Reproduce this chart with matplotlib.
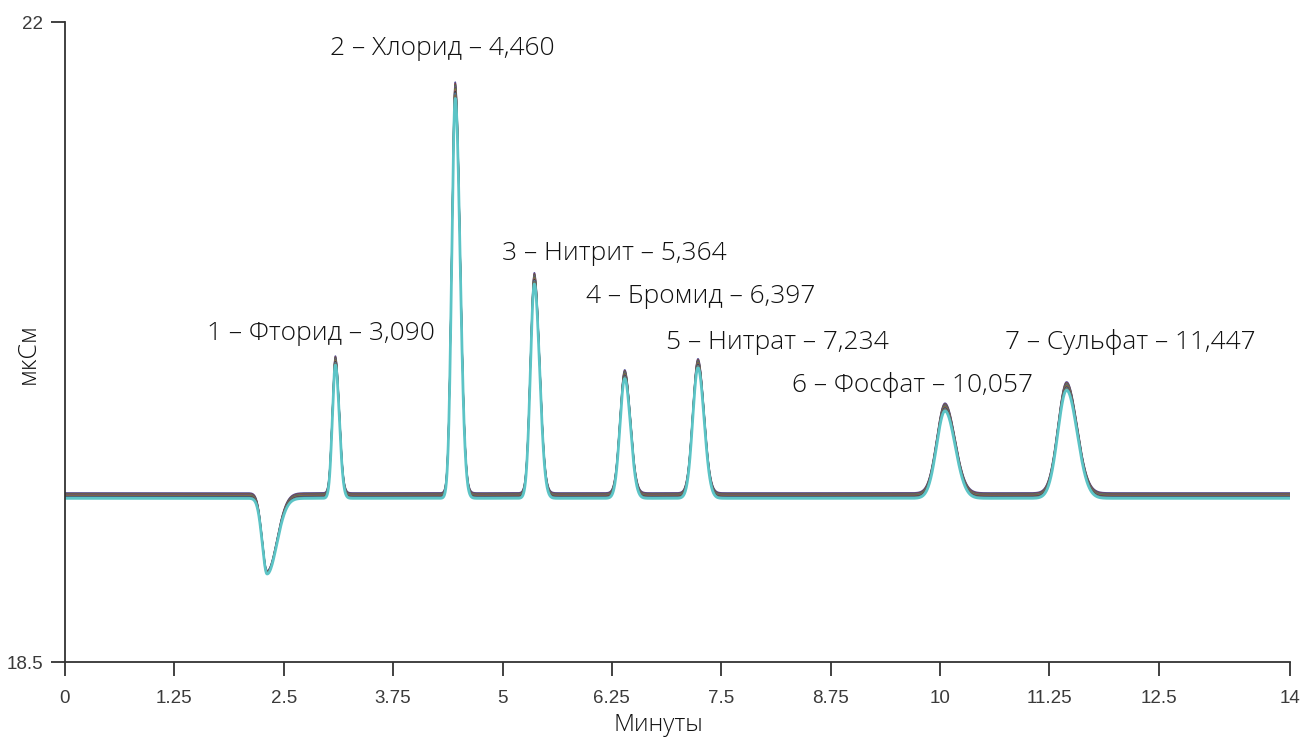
import numpy as np
import matplotlib.pyplot as plt

# peak table (minutes, µS above baseline)
peak_labels = ["1 – Фторид – 3,090", "2 – Хлорид – 4,460", "3 – Нитрит – 5,364",
               "4 – Бромид – 6,397", "5 – Нитрат – 7,234", "6 – Фосфат – 10,057",
               "7 – Сульфат – 11,447"]
peak_times = [3.09, 4.46, 5.364, 6.397, 7.234, 10.057, 11.447]
peak_heights = [0.74, 2.22, 1.19, 0.665, 0.725, 0.485, 0.60]
sigma_left = [0.035, 0.040, 0.045, 0.055, 0.060, 0.095, 0.100]
sigma_right = [0.045, 0.055, 0.060, 0.065, 0.070, 0.115, 0.120]

# water dip
dip_time = 2.31
dip_depth = -0.42
dip_sig = (0.055, 0.11)

baseline = 19.405

# individual injections: baseline shift and response factor
run_offsets = [0.020, 0.016, 0.012, 0.010, 0.007, 0.005, 0.002, 0.000, -0.003, -0.006, -0.010]
run_scales = [1.012, 1.010, 1.008, 1.006, 1.004, 1.002, 1.000, 0.998, 0.995, 0.992, 0.985]
run_colors = ["#3d3d8c", "#8c3b3b", "#2f8a4e", "#7a4a8a", "#5a5a5a", "#6f8a2a",
              "#a8506e", "#3a3a3a", "#4a7fb0", "#8a6a3a", "#5cc4c6"]

ann_x = [2.93, 4.31, 6.28, 7.27, 8.14, 9.68, 12.18]
ann_y = [20.261, 21.82, 20.698, 20.463, 20.212, 19.977, 20.212]

t = np.linspace(0, 14, 4000)


def peak(t, t0, h, sl, sr):
    s = np.where(t < t0, sl, sr)
    return h * np.exp(-0.5 * ((t - t0) / s) ** 2)


def trace(off, sc):
    y = np.full_like(t, baseline + off)
    y += peak(t, dip_time, dip_depth * sc, *dip_sig)
    for t0, h, sl, sr in zip(peak_times, peak_heights, sigma_left, sigma_right):
        y += peak(t, t0, h * sc, sl, sr)
    return y


W, H = 1301, 738
fig = plt.figure(figsize=(W / 100, H / 100), dpi=100)
ax = fig.add_axes([65 / W, 1 - 662 / H, 1225 / W, 640 / H])

for off, sc, c in zip(run_offsets, run_scales, run_colors):
    lw = 2.0 if c == "#5cc4c6" else 1.0
    ax.plot(t, trace(off, sc), color=c, lw=lw, alpha=0.9 if lw < 2 else 1.0)

ax.set_xlim(0, 14)
ax.set_ylim(18.5, 22)
ax.set_xticks([0, 1.25, 2.5, 3.75, 5, 6.25, 7.5, 8.75, 10, 11.25, 12.5, 14])
ax.set_xticklabels(["0", "1.25", "2.5", "3.75", "5", "6.25", "7.5", "8.75", "10",
                    "11.25", "12.5", "14"])
ax.set_yticks([18.5, 22])
ax.set_yticklabels(["18.5", "22"])

for s in ["top", "right"]:
    ax.spines[s].set_visible(False)
for s in ["left", "bottom"]:
    ax.spines[s].set_color("#333333")
    ax.spines[s].set_linewidth(1.3)

ax.tick_params(direction="out", length=10, width=1.3, color="#333333",
               labelcolor="#3a3a3a", labelsize=13.5)
ax.tick_params(axis="x", pad=10)
ax.tick_params(axis="y", pad=6)
for lab in ax.get_xticklabels() + ax.get_yticklabels():
    lab.set_family(["Liberation Sans Narrow", "Liberation Sans"])

lab_font = dict(family="Open Sans", fontweight="light", color="#111111")
fig.text(658 / W, 1 - 731 / H, "Минуты", ha="center", va="baseline",
         fontsize=17.5, **lab_font)
fig.text(28 / W, 1 - 354 / H, "мкСм", ha="center", va="center", rotation=90,
         fontsize=18, **lab_font)

for txt, x, y in zip(peak_labels, ann_x, ann_y):
    ax.text(x, y, txt, ha="center", va="baseline", fontsize=19, **lab_font)

fig.savefig("out.png", dpi=100)
